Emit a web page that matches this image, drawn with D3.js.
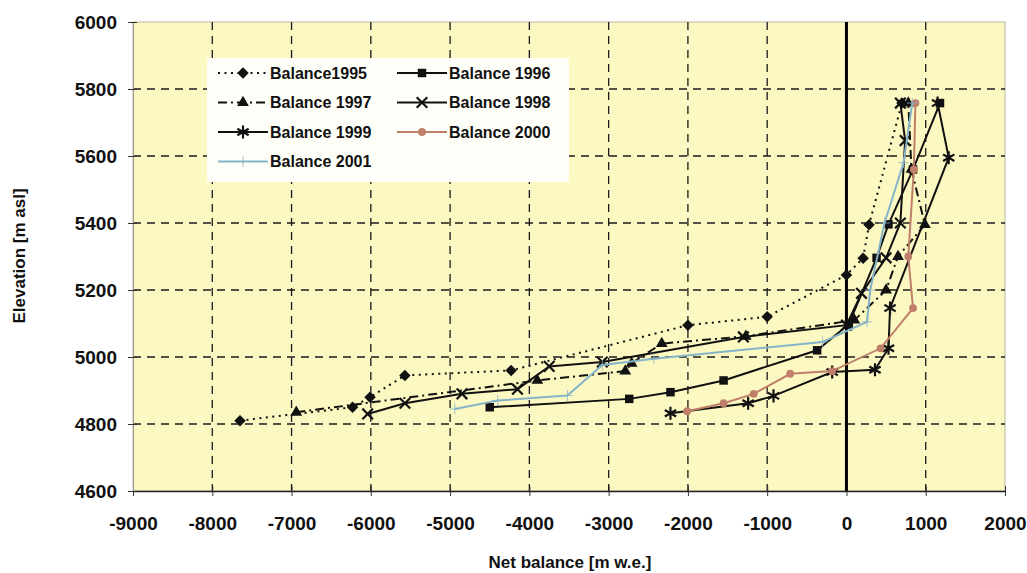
<!DOCTYPE html>
<html lang="en">
<head>
<meta charset="UTF-8" />
<title>Net balance vs elevation</title>
<script src="https://cdn.jsdelivr.net/npm/d3@7"></script>
<style>
  body { margin: 0; background: #fff; }
  text { font-family: "Liberation Sans", Arial, sans-serif; font-weight: bold; fill: #111; }
</style>
</head>
<body>
<div id="chart"></div>
<script>
// ticks
const xTicks = [-9000, -8000, -7000, -6000, -5000, -4000, -3000, -2000, -1000, 0, 1000, 2000];
const yTicks = [4600, 4800, 5000, 5200, 5400, 5600, 5800, 6000];

// net balance (m w.e.) and elevation (m asl)
const bal1995 = [-7650, -6230, -6010, -5570, -4230, -2000, -1000, 0, 210, 285, 700];
const elev1995 = [4810, 4850, 4880, 4945, 4960, 5095, 5120, 5245, 5295, 5395, 5758];

const bal1996 = [-4500, -2740, -2220, -1550, -370, 30, 380, 530, 840, 1180];
const elev1996 = [4850, 4875, 4895, 4930, 5020, 5098, 5296, 5396, 5560, 5758];

const bal1997 = [-6940, -3900, -2790, -2710, -2330, -1270, 100, 500, 650, 990, 820, 780];
const elev1997 = [4835, 4930, 4958, 4981, 5040, 5062, 5110, 5200, 5300, 5395, 5560, 5758];

const bal1998 = [-6040, -5570, -4850, -4150, -3750, -3080, -1300, 0, 190, 500, 680, 740, 680];
const elev1998 = [4830, 4862, 4890, 4904, 4972, 4985, 5060, 5095, 5190, 5296, 5400, 5646, 5758];

const bal1999 = [-2220, -1240, -920, -180, 360, 530, 550, 1290, 1150];
const elev1999 = [4832, 4862, 4884, 4955, 4962, 5026, 5146, 5595, 5758];

const bal2000 = [-2010, -1550, -1170, -710, -180, 430, 840, 780, 850, 870];
const elev2000 = [4838, 4862, 4890, 4950, 4958, 5026, 5146, 5300, 5560, 5758];

const bal2001 = [-4940, -4400, -3520, -3080, -2430, -300, 260, 300, 480, 720, 830];
const elev2001 = [4845, 4870, 4885, 4976, 4995, 5045, 5105, 5200, 5400, 5580, 5758];

const names = ['Balance1995', 'Balance 1996', 'Balance 1997', 'Balance 1998', 'Balance 1999', 'Balance 2000', 'Balance 2001'];

const zip = (a, b) => a.map((v, i) => ({ x: v, y: b[i] }));

const series = [
  { name: names[0], pts: zip(bal1995, elev1995), color: '#111', dash: '2,4.5', sym: d3.symbolSquare, size: 66, rot: 45, stroke: false },
  { name: names[1], pts: zip(bal1996, elev1996), color: '#111', dash: null, sym: d3.symbolSquare, size: 72, rot: 0, stroke: false },
  { name: names[2], pts: zip(bal1997, elev1997), color: '#111', dash: '9,4,2,4', sym: d3.symbolTriangle, size: 60, rot: 0, stroke: false },
  { name: names[3], pts: zip(bal1998, elev1998), color: '#111', dash: null, sym: d3.symbolTimes, size: 75, rot: 0, stroke: true },
  { name: names[4], pts: zip(bal1999, elev1999), color: '#111', dash: null, sym: d3.symbolAsterisk, size: 120, rot: 0, stroke: true },
  { name: names[5], pts: zip(bal2000, elev2000), color: '#c07f6a', dash: null, sym: d3.symbolCircle, size: 48, rot: 0, stroke: false },
  { name: names[6], pts: zip(bal2001, elev2001), color: '#86b4c8', dash: null, sym: d3.symbolPlus, size: 40, rot: 0, stroke: false }
];

const W = 1027, H = 573;
const plot = { left: 133, right: 1005, top: 22, bottom: 491 };

const svg = d3.select('#chart').append('svg')
  .attr('width', W)
  .attr('height', H);

svg.append('rect').attr('width', W).attr('height', H).attr('fill', '#fff');

const x = d3.scaleLinear().domain([-9000, 2000]).range([plot.left, plot.right]);
const y = d3.scaleLinear().domain([4600, 6000]).range([plot.bottom, plot.top]);

// plot area
svg.append('rect')
  .attr('x', plot.left)
  .attr('y', plot.top)
  .attr('width', plot.right - plot.left)
  .attr('height', plot.bottom - plot.top)
  .attr('fill', '#fcf8c2')
  .attr('stroke', '#b8b8a0')
  .attr('stroke-width', 1);

// grid
const grid = svg.append('g').attr('stroke', '#1a1a1a').attr('stroke-width', 1.3).attr('stroke-dasharray', '8,6');
grid.selectAll('.hg')
  .data(yTicks.filter(d => d > 4600 && d < 6000))
  .join('line')
  .attr('x1', plot.left).attr('x2', plot.right)
  .attr('y1', d => y(d)).attr('y2', d => y(d));
grid.selectAll('.vg')
  .data(xTicks.filter(d => d > -9000 && d < 2000 && d !== 0))
  .join('line')
  .attr('y1', plot.top).attr('y2', plot.bottom)
  .attr('x1', d => x(d)).attr('x2', d => x(d));

// axes
const fmt = d => String(d);

const xAxis = svg.append('g')
  .attr('transform', `translate(0,${plot.bottom})`)
  .call(d3.axisBottom(x).tickValues(xTicks).tickFormat(fmt).tickSize(5).tickSizeOuter(0).tickPadding(21));
xAxis.select('.domain').attr('stroke', '#222').attr('stroke-width', 1.5);
xAxis.selectAll('.tick line').attr('stroke', '#333').attr('y1', -5);
xAxis.selectAll('.tick text').attr('font-size', 19).attr('font-family', '"Liberation Sans", Arial, sans-serif').attr('font-weight', 'bold').attr('fill', '#111');

const yAxis = svg.append('g')
  .attr('transform', `translate(${plot.left},0)`)
  .call(d3.axisLeft(y).tickValues(yTicks).tickFormat(fmt).tickSize(5).tickSizeOuter(0).tickPadding(11));
yAxis.select('.domain').attr('stroke', '#999').attr('stroke-width', 1);
yAxis.selectAll('.tick line').attr('stroke', '#333').attr('x1', 4);
yAxis.selectAll('.tick text').attr('font-size', 19).attr('font-family', '"Liberation Sans", Arial, sans-serif').attr('font-weight', 'bold').attr('fill', '#111');

// zero line
svg.append('line')
  .attr('x1', x(0)).attr('x2', x(0))
  .attr('y1', plot.top).attr('y2', plot.bottom)
  .attr('stroke', '#000').attr('stroke-width', 3);

// series
const line = d3.line().x(d => x(d.x)).y(d => y(d.y));

const drawMarker = (sel, s) => {
  const p = d3.symbol().type(s.sym).size(s.size)();
  sel.attr('d', p)
    .attr('fill', s.stroke ? 'none' : s.color)
    .attr('stroke', s.stroke ? s.color : (s.sym === d3.symbolPlus ? s.color : 'none'))
    .attr('stroke-width', s.stroke ? 2.2 : (s.sym === d3.symbolPlus ? 0.8 : 0));
};

series.forEach(s => {
  const g = svg.append('g');
  g.append('path')
    .datum(s.pts)
    .attr('d', line)
    .attr('fill', 'none')
    .attr('stroke', s.color)
    .attr('stroke-width', 2)
    .attr('stroke-dasharray', s.dash);
  g.selectAll('path.m')
    .data(s.pts)
    .join('path')
    .attr('class', 'm')
    .attr('transform', d => `translate(${x(d.x)},${y(d.y)}) rotate(${s.rot})`)
    .call(drawMarker, s);
});

// legend
const leg = svg.append('g');
leg.append('rect')
  .attr('x', 207).attr('y', 58)
  .attr('width', 362).attr('height', 124)
  .attr('fill', '#fefef8');

series.forEach((s, i) => {
  const lx = 218 + (i % 2) * 179;
  const ly = 73 + Math.floor(i / 2) * 29.5;
  const e = leg.append('g').attr('transform', `translate(${lx},${ly})`);
  e.append('line')
    .attr('x1', 0).attr('x2', 50)
    .attr('stroke', s.color).attr('stroke-width', 2)
    .attr('stroke-dasharray', s.dash);
  e.append('path')
    .attr('transform', `translate(25,0) rotate(${s.rot})`)
    .call(drawMarker, s);
  e.append('text')
    .attr('x', 52).attr('y', 5.5)
    .attr('font-size', 16)
    .text(s.name);
});

// axis titles
svg.append('text')
  .attr('x', 570).attr('y', 568)
  .attr('text-anchor', 'middle')
  .attr('font-size', 17)
  .text('Net balance [m w.e.]');

svg.append('text')
  .attr('transform', `translate(25,256) rotate(-90)`)
  .attr('text-anchor', 'middle')
  .attr('font-size', 17)
  .text('Elevation [m asl]');
</script>
</body>
</html>
